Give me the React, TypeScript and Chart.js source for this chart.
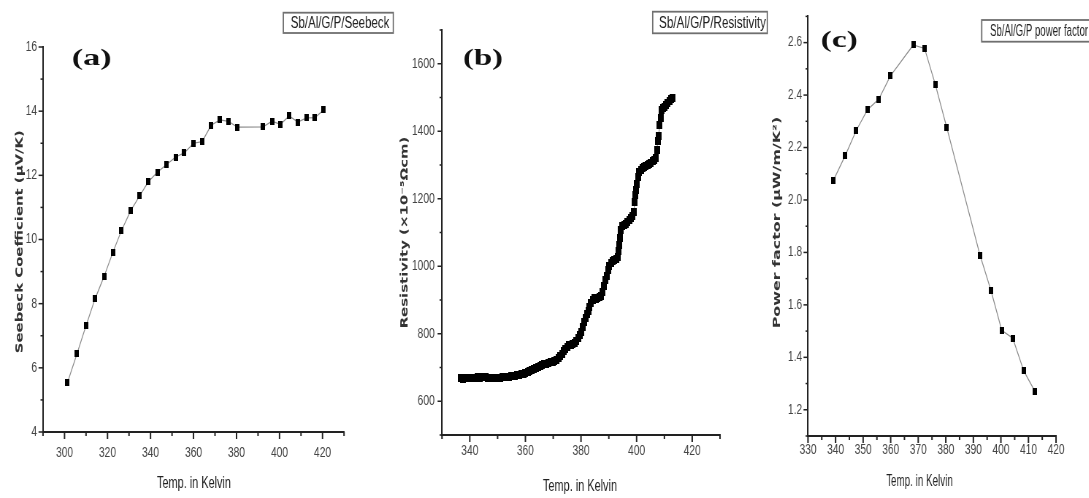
import React, { useEffect, useRef } from "react";
import { Chart, registerables } from "chart.js";
Chart.register(...registerables);

// horizontal compression of the whole figure
const S = 0.73;

// ---------- Panel (a): Seebeck coefficient ----------
const seebeckTemp = [301.4, 305.8, 310.0, 314.2, 318.4, 322.5, 326.5, 330.8, 335.0, 339.0, 343.2, 347.5, 351.7, 355.7, 360.0, 364.0, 368.2, 372.3, 376.3, 380.4, 392.4, 396.5, 400.4, 404.5, 408.5, 412.6, 416.5, 420.5];
const seebeckCoef = [5.54, 6.44, 7.31, 8.15, 8.85, 9.6, 10.28, 10.9, 11.37, 11.8, 12.1, 12.34, 12.57, 12.7, 13.0, 13.05, 13.56, 13.73, 13.68, 13.5, 13.51, 13.69, 13.59, 13.85, 13.66, 13.79, 13.8, 14.04];
const seebeckXLabels = [300, 320, 340, 360, 380, 400, 420];
const seebeckYLabels = [4, 6, 8, 10, 12, 14, 16];

// ---------- Panel (b): Resistivity ----------
const resistTemp = [336.8, 337.5, 338.2, 339.0, 339.8, 340.5, 341.3, 342.0, 342.8, 343.5, 344.3, 345.0, 345.8, 346.5, 347.3, 348.0, 348.8, 349.5, 350.3, 351.0, 351.8, 352.5, 353.3, 354.0, 354.8, 355.5, 356.3, 357.0, 357.8, 358.5, 359.3, 360.0, 360.8, 361.5, 362.3, 363.0, 363.8, 364.5, 365.3, 366.0, 366.8, 367.5, 368.3, 369.0, 369.8, 370.5, 371.3, 372.0, 372.6, 373.2, 373.8, 374.4, 375.0, 375.7, 376.4, 377.0, 377.7, 378.3, 379.0, 379.6, 380.1, 380.6, 381.1, 381.6, 382.1, 382.6, 383.1, 383.6, 384.2, 384.8, 385.4, 386.0, 386.6, 387.2, 387.7, 388.2, 388.7, 389.2, 389.7, 390.2, 390.8, 391.4, 392.0, 392.6, 393.1, 393.5, 393.8, 394.1, 394.4, 394.9, 395.5, 396.1, 396.7, 397.3, 397.9, 398.5, 399.0, 399.3, 399.5, 399.8, 400.1, 400.5, 400.9, 401.5, 402.1, 402.7, 403.3, 403.9, 404.5, 405.1, 405.7, 406.3, 406.9, 407.3, 407.6, 407.9, 408.3, 408.6, 408.9, 409.4, 410.0, 410.6, 411.2, 411.8, 412.3, 412.8];
const resistRho = [668, 667, 669, 668, 670, 669, 670, 670, 671, 670, 672, 673, 672, 670, 668, 668, 668, 669, 670, 670, 671, 671, 672, 673, 674, 675, 676, 677, 678, 680, 682, 684, 687, 690, 693, 696, 699, 702, 705, 707, 709, 711, 713, 715, 717, 720, 723, 727, 733, 740, 748, 756, 762, 766, 768, 771, 774, 778, 786, 796, 806, 820, 835, 848, 858, 868, 880, 890, 900, 905, 903, 905, 908, 912, 925, 942, 958, 972, 990, 1002, 1010, 1015, 1018, 1022, 1028, 1045, 1062, 1085, 1108, 1118, 1122, 1125, 1130, 1136, 1142, 1150, 1160, 1190, 1210, 1225, 1245, 1265, 1280, 1285, 1290, 1293, 1296, 1299, 1303, 1307, 1311, 1315, 1320, 1345, 1372, 1385, 1420, 1440, 1462, 1468, 1472, 1478, 1485, 1490, 1495, 1500];
const resistXLabels = [340, 360, 380, 400, 420];
const resistYLabels = [600, 800, 1000, 1200, 1400, 1600];

// ---------- Panel (c): Power factor ----------
const pfTemp = [339.2, 343.5, 347.5, 351.6, 355.7, 359.9, 368.2, 372.3, 376.2, 380.3, 392.4, 396.4, 400.3, 404.3, 408.3, 412.4];
const pfValue = [2.075, 2.169, 2.265, 2.344, 2.385, 2.473, 2.591, 2.578, 2.44, 2.278, 1.79, 1.655, 1.503, 1.473, 1.348, 1.269];
const pfXLabels = [330, 340, 350, 360, 370, 380, 390, 400, 410, 420];
const pfYLabels = [1.2, 1.4, 1.6, 1.8, 2.0, 2.2, 2.4, 2.6];

type TextSpec = {
  text: string; x: number; y: number; w: number; font: string; color: string;
  rot?: boolean; baseline?: CanvasTextBaseline;
};

type PanelSpec = {
  left: number; width: number;
  chartLeft: number; chartRight: number; top: number; bottom: number;
  xMin: number; xMax: number; xStep: number; xLabels: number[]; xPad: number;
  yMin: number; yMax: number; yStep: number; yLabels: number[]; yPad: number; yDigits: number;
  xs: number[]; ys: number[];
  marker: [number, number];
  texts: TextSpec[];
  box: [number, number, number, number];
};

const TICK_FONT = { family: "'Liberation Sans', Arial, sans-serif", size: 14 };
const YTITLE_FONT = "bold 14px 'DejaVu Sans', sans-serif";
const XTITLE_FONT = "16px 'Liberation Sans', Arial, sans-serif";
const LEGEND_FONT = "16px 'Liberation Sans', Arial, sans-serif";
const LABEL_FONT = "bold 24px 'Liberation Serif', 'Times New Roman', serif";

const panels: PanelSpec[] = [
  {
    left: 0, width: 400, chartLeft: 43, chartRight: 344, top: 47, bottom: 432,
    xMin: 290, xMax: 430, xStep: 10, xLabels: seebeckXLabels, xPad: 13,
    yMin: 4, yMax: 16, yStep: 1, yLabels: seebeckYLabels, yPad: 8, yDigits: 0,
    xs: seebeckTemp, ys: seebeckCoef, marker: [6, 7],
    texts: [
      { text: "Seebeck Coefficient (\u03BCV/K)", x: 20, y: 241.7, w: 223, font: YTITLE_FONT, color: "#333", rot: true },
      { text: "Temp. in Kelvin", x: 194, y: 488, w: 74, font: XTITLE_FONT, color: "#222" },
      { text: "Sb/Al/G/P/Seebeck", x: 340, y: 28.3, w: 98.6, font: LEGEND_FONT, color: "#222" },
      { text: "(a)", x: 91.7, y: 59, w: 40, font: LABEL_FONT, color: "#111", baseline: "middle" },
    ],
    box: [283.3, 12.7, 393.3, 33],
  },
  {
    left: 363, width: 417, chartLeft: 442, chartRight: 720, top: 30, bottom: 435,
    xMin: 330, xMax: 430, xStep: 10, xLabels: resistXLabels, xPad: 8,
    yMin: 500, yMax: 1700, yStep: 100, yLabels: resistYLabels, yPad: 10, yDigits: 0,
    xs: resistTemp, ys: resistRho, marker: [8, 8],
    texts: [
      { text: "Resistivity (\u00D710\u207B\u2075\u03A9cm)", x: 404.7, y: 232.5, w: 191.7, font: YTITLE_FONT, color: "#333", rot: true },
      { text: "Temp. in Kelvin", x: 580, y: 491, w: 74, font: XTITLE_FONT, color: "#222" },
      { text: "Sb/Al/G/P/Resistivity", x: 712.5, y: 28.3, w: 107, font: LEGEND_FONT, color: "#222" },
      { text: "(b)", x: 483, y: 58.3, w: 40, font: LABEL_FONT, color: "#111", baseline: "middle" },
    ],
    box: [652.7, 11.7, 767.3, 33.3],
  },
  {
    left: 726, width: 363, chartLeft: 808, chartRight: 1056, top: 10, bottom: 436,
    xMin: 330, xMax: 420, xStep: 5, xLabels: pfXLabels, xPad: 6,
    yMin: 1.1, yMax: 2.7, yStep: 0.1, yLabels: pfYLabels, yPad: 8, yDigits: 1,
    xs: pfTemp, ys: pfValue, marker: [6, 7],
    texts: [
      { text: "Power factor (\u03BCW/m/K\u00B2)", x: 777, y: 222.5, w: 211.7, font: YTITLE_FONT, color: "#333", rot: true },
      { text: "Temp. in Kelvin", x: 919.5, y: 486, w: 66.7, font: XTITLE_FONT, color: "#222" },
      { text: "Sb/Al/G/P power factor", x: 1039, y: 36, w: 98, font: LEGEND_FONT, color: "#222" },
      { text: "(c)", x: 839.3, y: 41, w: 37, font: LABEL_FONT, color: "#111", baseline: "middle" },
    ],
    box: [981.7, 20, 1095, 41.7],
  },
];

const isLabel = (list: number[], v: number) => list.some((l) => Math.abs(l - v) < 1e-6);

const tickMarks = {
  id: "tickMarks",
  afterDraw(chart: any) {
    const ctx = chart.ctx as CanvasRenderingContext2D;
    const { left, bottom } = chart.chartArea;
    ctx.save();
    ctx.strokeStyle = "#222";
    const xs = chart.scales.x;
    ctx.lineWidth = 2;
    xs.ticks.forEach((t: any) => {
      const px = xs.getPixelForValue(t.value);
      const major = t.label !== "";
      ctx.beginPath();
      ctx.moveTo(px, bottom);
      ctx.lineTo(px, bottom + (major ? 7 : 4));
      ctx.stroke();
    });
    const ys = chart.scales.y;
    ctx.lineWidth = 1.5;
    ys.ticks.forEach((t: any) => {
      const py = ys.getPixelForValue(t.value);
      const major = t.label !== "";
      ctx.beginPath();
      ctx.moveTo(left, py);
      ctx.lineTo(left - (major ? 4.5 : 2.5) / S, py);
      ctx.stroke();
    });
    ctx.restore();
  },
};

const annotations = {
  id: "annotations",
  afterDraw(chart: any, _args: any, opts: any) {
    const spec: PanelSpec = opts.spec;
    if (!spec) return;
    const ctx = chart.ctx as CanvasRenderingContext2D;
    ctx.save();
    const [bx1, by1, bx2, by2] = spec.box;
    ctx.strokeStyle = "#6f6f6f";
    ctx.lineWidth = 1.8;
    ctx.strokeRect((bx1 - spec.left) / S, by1, (bx2 - bx1) / S, by2 - by1);
    spec.texts.forEach((t) => {
      ctx.save();
      ctx.font = t.font;
      ctx.fillStyle = t.color;
      ctx.textAlign = "center";
      const m = ctx.measureText(t.text).width;
      const cx = (t.x - spec.left) / S;
      ctx.translate(cx, t.y);
      if (t.rot) {
        ctx.rotate(-Math.PI / 2);
        ctx.scale(t.w / m, 1);
        ctx.textBaseline = "middle";
      } else {
        ctx.scale(t.w / S / m, 1);
        ctx.textBaseline = t.baseline || "alphabetic";
      }
      ctx.fillText(t.text, 0, 0);
      ctx.restore();
    });
    ctx.restore();
  },
};

function Panel({ spec }: { spec: PanelSpec }) {
  const ref = useRef<HTMLCanvasElement | null>(null);
  useEffect(() => {
    const canvas = ref.current!;
    const W = Math.round(spec.width / S);
    canvas.width = W;
    canvas.height = 498;
    const marker = document.createElement("canvas");
    marker.width = spec.marker[0];
    marker.height = spec.marker[1];
    const mc = marker.getContext("2d")!;
    mc.fillStyle = "#000";
    mc.fillRect(0, 0, marker.width, marker.height);
    const leftW = (spec.chartLeft - spec.left) / S;
    const rightPad = W - (spec.chartRight - spec.left) / S;
    const chart = new Chart(canvas, {
      type: "scatter",
      data: {
        datasets: [
          {
            data: spec.xs.map((x, i) => ({ x, y: spec.ys[i] })),
            showLine: true,
            borderColor: "#8c8c8c",
            borderWidth: 1.2,
            pointStyle: marker as any,
            pointRadius: 3,
            pointHoverRadius: 3,
          },
        ],
      },
      options: {
        responsive: false,
        animation: false,
        devicePixelRatio: 1,
        events: [],
        layout: { padding: { top: spec.top, right: rightPad, left: 0, bottom: 0 } },
        plugins: {
          legend: { display: false },
          tooltip: { enabled: false },
          annotations: { spec },
        } as any,
        scales: {
          x: {
            type: "linear",
            min: spec.xMin,
            max: spec.xMax,
            afterFit: (sc: any) => {
              sc.height = 498 - spec.bottom;
            },
            grid: { display: true, drawOnChartArea: false, drawTicks: false },
            border: { display: true, color: "#222", width: 2 },
            ticks: {
              stepSize: spec.xStep,
              autoSkip: false,
              maxRotation: 0,
              minRotation: 0,
              padding: spec.xPad,
              color: "#444",
              font: TICK_FONT,
              callback: (v: any) => (isLabel(spec.xLabels, Number(v)) ? String(Math.round(Number(v))) : ""),
            },
          },
          y: {
            type: "linear",
            min: spec.yMin,
            max: spec.yMax,
            afterFit: (sc: any) => {
              sc.width = leftW;
            },
            grid: { display: true, drawOnChartArea: false, drawTicks: false },
            border: { display: true, color: "#222", width: 2 },
            ticks: {
              stepSize: spec.yStep,
              autoSkip: false,
              padding: spec.yPad,
              color: "#444",
              font: TICK_FONT,
              callback: (v: any) => (isLabel(spec.yLabels, Number(v)) ? Number(v).toFixed(spec.yDigits) : ""),
            },
          },
        },
      },
      plugins: [tickMarks, annotations],
    } as any);
    return () => chart.destroy();
  }, [spec]);
  return (
    <canvas
      ref={ref}
      style={{
        position: "absolute",
        left: spec.left,
        top: 0,
        transform: `scaleX(${S})`,
        transformOrigin: "0 0",
      }}
    />
  );
}

export default function App() {
  return (
    <div style={{ position: "fixed", left: 0, top: 0, width: 1089, height: 498, background: "#fff", overflow: "hidden" }}>
      {panels.map((p, i) => (
        <Panel key={i} spec={p} />
      ))}
    </div>
  );
}
